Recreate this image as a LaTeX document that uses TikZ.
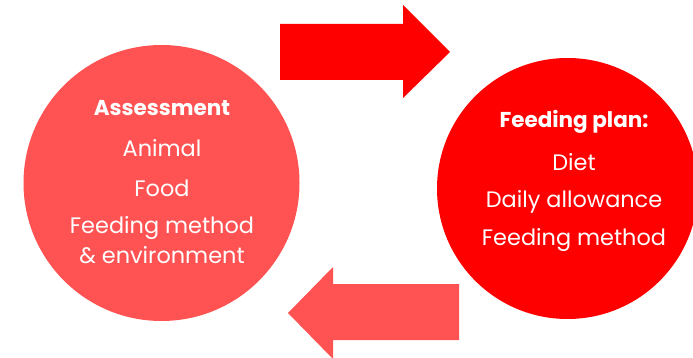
\documentclass[tikz,border=0pt]{standalone}
\usepackage{fontspec}
\setmainfont{Poppins}
\begin{document}
\begin{tikzpicture}[x=1pt,y=-1pt,
  lbl/.style={text=white,inner sep=0pt,anchor=center,font=\fontsize{22.4}{26}\selectfont},
  lblb/.style={lbl,font=\fontsize{21.5}{26}\selectfont\bfseries},
  circ/.style={circle,inner sep=0pt}]
\useasboundingbox (0,0) rectangle (693,358);
\definecolor{lightred}{HTML}{FF5353}
\definecolor{fullred}{HTML}{FF0000}
\begin{scope}
\clip (0,0) rectangle (693,358);
\node[circ,fill=lightred,minimum size=276pt] (assess) at (161.5,183) {};
\node[circ,fill=fullred,minimum size=261pt] (plan) at (567.5,188.5) {};
% top arrow (right)
\fill[fullred] (280,24) -- (403,24) -- (403,5) -- (450,52) -- (403,98) -- (403,80) -- (280,80) -- cycle;
% bottom arrow (left)
\fill[lightred] (459,284) -- (333,284) -- (333,267) -- (288,313) -- (333,359) -- (333,340) -- (459,340) -- cycle;
\end{scope}
\node[lblb] (a1) at (162,108) {Assessment};
\node[lbl] (a2) at (162,148) {Animal};
\node[lbl] (a3) at (162,188) {Food};
\node[lbl] (a4) at (162,228) {Feeding method};
\node[lbl] (a5) at (162,255) {\& environment};
\node[lblb] (p1) at (574,122) {Feeding plan:};
\node[lbl] (p2) at (574,162) {Diet};
\node[lbl] (p3) at (574,202) {Daily allowance};
\node[lbl] (p4) at (574,240) {Feeding method};
\end{tikzpicture}
\end{document}
